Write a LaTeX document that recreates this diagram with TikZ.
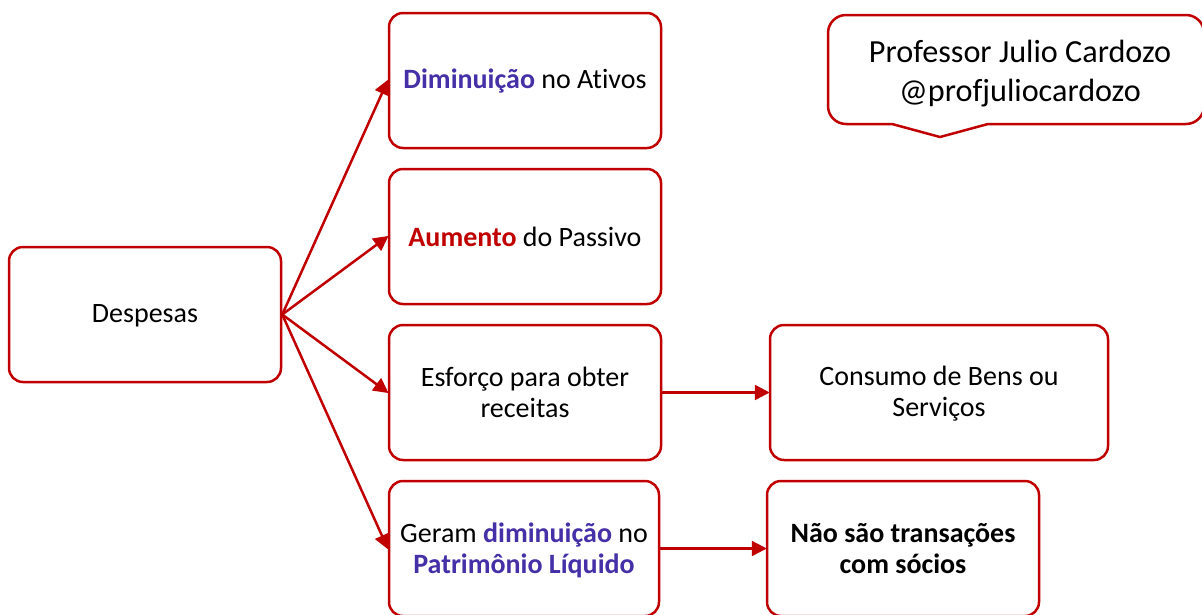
\documentclass[tikz,border=0pt]{standalone}
\usepackage{fontspec}
\setmainfont[Ligatures=NoCommon]{Carlito}
\usetikzlibrary{arrows.meta}
\definecolor{boxred}{HTML}{C00000}
\definecolor{emph}{HTML}{4530A8}
\tikzset{
  card/.style={draw=boxred,line width=2.5pt,rounded corners=14pt,fill=white,align=center,inner sep=0pt,text=black,font=\fontsize{28}{31}\selectfont},
  cardtext/.style={align=center,inner sep=0pt,text=black,font=\fontsize{28}{31}\selectfont},
  link/.style={draw=boxred,line width=2.5pt,-{Triangle[length=15pt,width=15pt]},shorten >=-1pt},
  callout/.style={draw=boxred,line width=2.5pt,fill=white},
  calltext/.style={align=center,inner sep=0pt,text=black,font=\fontsize{32.2}{39}\selectfont}
}
\newcommand{\hl}[1]{\textcolor{emph}{\textbf{#1}}}
\begin{document}
\begin{tikzpicture}[x=1pt,y=-1pt]
\useasboundingbox (0,0) rectangle (1202,614);
\clip (0,0) rectangle (1202,614);
\node[card,minimum width=272pt,minimum height=135pt] (d) at (145,314.5) {};
\node[cardtext] (dt) at (145,316) {Despesas};
\node[card,minimum width=272pt,minimum height=135pt] (b1) at (525,80.5) {};
\node[cardtext] (b1t) at (525,81.5) {\hl{Diminuição} no Ativos};
\node[card,minimum width=272pt,minimum height=135pt] (b2) at (525,236.5) {\textcolor{boxred}{\textbf{Aumento}} do Passivo};
\node[card,minimum width=272pt,minimum height=135pt] (b3) at (525,392.5) {Esforço para obter\\receitas};
\node[card,minimum width=270pt,minimum height=135pt] (b4) at (524,548.5) {};
\node[cardtext] (b4t) at (524,550) {Geram \hl{diminuição} no\\\hl{Patrimônio Líquido}};
\node[card,minimum width=338pt,minimum height=135pt] (c3) at (939,392.5) {};
\node[cardtext] (c3t) at (939,393.5) {Consumo de Bens ou\\Serviços};
\node[card,minimum width=272pt,minimum height=135pt] (c4) at (903,548.5) {\textbf{Não são transações}\\\textbf{com sócios}};
\draw[callout] (892,124) [rounded corners=18pt] -- (828,124) -- (828,15) -- (1204,15) -- (1204,124) [sharp corners] -- (988,124) -- (940,137) -- cycle;
\node[calltext] (t) at (1020,74) {Professor Julio Cardozo\\@profjuliocardozo};
\draw[link] (d.east) -- (b1.west);
\draw[link] (d.east) -- (b2.west);
\draw[link] (d.east) -- (b3.west);
\draw[link] (d.east) -- (b4.west);
\draw[link] (b3.east) -- (c3.west);
\draw[link] (b4.east) -- (c4.west);
\end{tikzpicture}
\end{document}
